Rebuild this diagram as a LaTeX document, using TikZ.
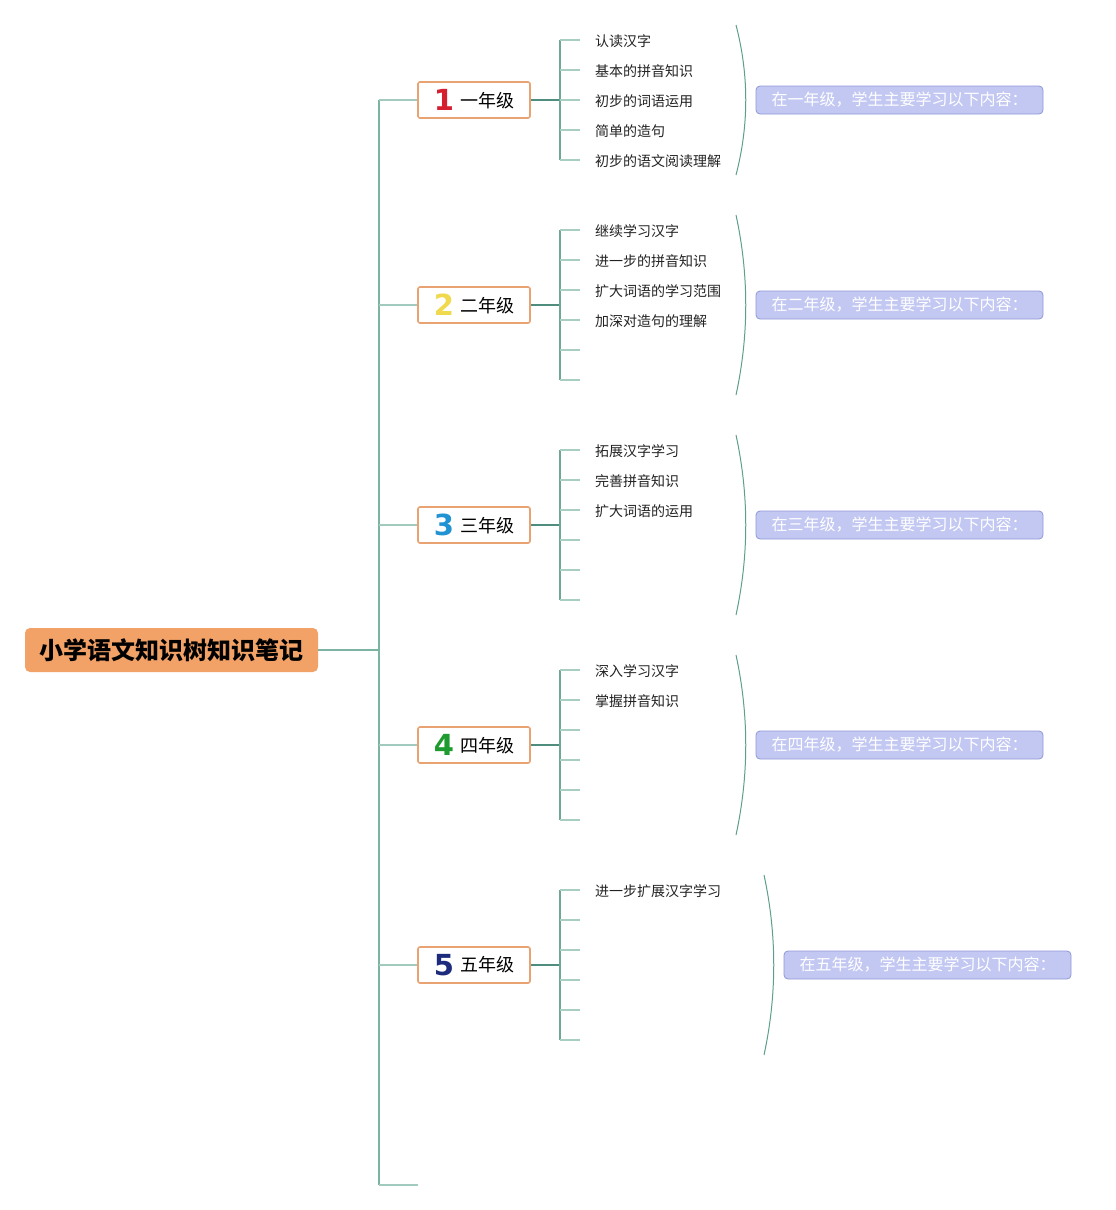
\documentclass[tikz,border=0pt]{standalone}
\usepackage{fontspec}
\setmainfont{Noto Sans CJK SC}
\newfontfamily\digitfont{DejaVu Sans}
\definecolor{rootfill}{HTML}{F3A267}
\definecolor{gradeedge}{HTML}{E9A373}
\definecolor{trunkc}{HTML}{7DB3A3}
\definecolor{branchc}{HTML}{A3CABE}
\definecolor{darkc}{HTML}{4F8E7E}
\definecolor{midc}{HTML}{6FA797}
\definecolor{tickc}{HTML}{A8CDC1}
\definecolor{sumfill}{HTML}{C3C8F3}
\definecolor{sumedge}{HTML}{8E97D6}
\definecolor{bracec}{HTML}{5E9E8C}
\definecolor{leaftext}{HTML}{222222}
\definecolor{dA}{HTML}{D61F2E}
\definecolor{dB}{HTML}{F0D94C}
\definecolor{dC}{HTML}{2193D3}
\definecolor{dD}{HTML}{1E9B2E}
\definecolor{dE}{HTML}{1D2B7C}
\tikzset{
  rootbox/.style={fill=rootfill, rounded corners=5pt, minimum width=293pt, minimum height=44pt, inner sep=0pt, font=\fontsize{24}{24}\selectfont\bfseries, text=black},
  gradebox/.style={draw=gradeedge, line width=1.6pt, fill=white, rounded corners=2pt, minimum width=112pt, minimum height=36pt, inner sep=0pt, font=\fontsize{18}{18}\selectfont, text=black},
  leaftxt/.style={anchor=west, inner sep=0pt, font=\fontsize{14}{14}\selectfont, text=leaftext},
  sumbox/.style={draw=sumedge, line width=0.8pt, fill=sumfill, rounded corners=4pt, minimum width=287pt, minimum height=28pt, inner sep=0pt, font=\fontsize{16}{16}\selectfont, text=white},
  trunkline/.style={draw=trunkc, line width=2pt},
  branchline/.style={draw=branchc, line width=2pt},
  darkline/.style={draw=darkc, line width=2pt},
  midline/.style={draw=midc, line width=1.6pt},
  tickline/.style={draw=tickc, line width=1.6pt},
  braceline/.style={draw=bracec, line width=1pt},
}
\newcommand{\dig}[2]{\raisebox{-3.5pt}{\digitfont\bfseries\fontsize{29}{29}\selectfont\color{#1}#2}\hspace{6pt}}
\begin{document}
\begin{tikzpicture}[x=1pt,y=-1pt]
\useasboundingbox (0,0) rectangle (1116,1210);
% root
\node[rootbox] (root) at (171.5,650) {小学语文知识树知识笔记};
\coordinate (j) at (379,650);
\coordinate (ttop) at (379,100);
\coordinate (tbot) at (379,1185);
\coordinate (tend) at (418,1185);
\draw[trunkline] (root.east) -- (j);
\draw[trunkline] (ttop) -- (tbot);
\draw[branchline] (tbot) -- (tend);
% grade boxes
\node[gradebox] (g1) at (474,100) {\dig{dA}{1}一年级};
\node[gradebox] (g2) at (474,305) {\dig{dB}{2}二年级};
\node[gradebox] (g3) at (474,525) {\dig{dC}{3}三年级};
\node[gradebox] (g4) at (474,745) {\dig{dD}{4}四年级};
\node[gradebox] (g5) at (474,965) {\dig{dE}{5}五年级};
\foreach \g/\cy in {g1/100,g2/305,g3/525,g4/745,g5/965}{
  \coordinate (\g t) at (379,\cy);
  \draw[branchline] (\g t) -- (\g.west);
  \coordinate (\g j) at (560,\cy);
  \draw[darkline] (\g.east) -- (\g j);
}
% grade 1 leaves
\coordinate (g1a) at (560,40);
\coordinate (g1b) at (560,160);
\draw[midline] (g1a) -- (g1b);
\foreach \k in {0,...,4}{
  \coordinate (l1s\k) at (560,40+30*\k);
  \coordinate (l1e\k) at (580,40+30*\k);
  \draw[tickline] (l1s\k) -- (l1e\k);
}
% grades 2-5 leaves
\foreach \g/\top in {2/230,3/450,4/670,5/890}{
  \coordinate (g\g a) at (560,\top);
  \coordinate (g\g b) at (560,\top+150);
  \draw[midline] (g\g a) -- (g\g b);
  \foreach \k in {0,...,5}{
    \coordinate (l\g s\k) at (560,\top+30*\k);
    \coordinate (l\g e\k) at (580,\top+30*\k);
    \draw[tickline] (l\g s\k) -- (l\g e\k);
  }
}
% leaf texts
\node[leaftxt] (t11) at (595,41) {认读汉字};
\node[leaftxt] (t12) at (595,71) {基本的拼音知识};
\node[leaftxt] (t13) at (595,101) {初步的词语运用};
\node[leaftxt] (t14) at (595,131) {简单的造句};
\node[leaftxt] (t15) at (595,161) {初步的语文阅读理解};
\node[leaftxt] (t21) at (595,231) {继续学习汉字};
\node[leaftxt] (t22) at (595,261) {进一步的拼音知识};
\node[leaftxt] (t23) at (595,291) {扩大词语的学习范围};
\node[leaftxt] (t24) at (595,321) {加深对造句的理解};
\node[leaftxt] (t31) at (595,451) {拓展汉字学习};
\node[leaftxt] (t32) at (595,481) {完善拼音知识};
\node[leaftxt] (t33) at (595,511) {扩大词语的运用};
\node[leaftxt] (t41) at (595,671) {深入学习汉字};
\node[leaftxt] (t42) at (595,701) {掌握拼音知识};
\node[leaftxt] (t51) at (595,891) {进一步扩展汉字学习};
% braces
\draw[braceline] (736,25) .. controls (749,75) and (749,125) .. (736,175);
\draw[braceline] (736,215) .. controls (749,275) and (749,335) .. (736,395);
\draw[braceline] (736,435) .. controls (749,495) and (749,555) .. (736,615);
\draw[braceline] (736,655) .. controls (749,715) and (749,775) .. (736,835);
\draw[braceline] (764,875) .. controls (777,935) and (777,995) .. (764,1055);
% summaries
\node[sumbox] (s1) at (899.5,100) {在一年级，学生主要学习以下内容：};
\node[sumbox] (s2) at (899.5,305) {在二年级，学生主要学习以下内容：};
\node[sumbox] (s3) at (899.5,525) {在三年级，学生主要学习以下内容：};
\node[sumbox] (s4) at (899.5,745) {在四年级，学生主要学习以下内容：};
\node[sumbox] (s5) at (927.5,965) {在五年级，学生主要学习以下内容：};
\end{tikzpicture}
\end{document}
